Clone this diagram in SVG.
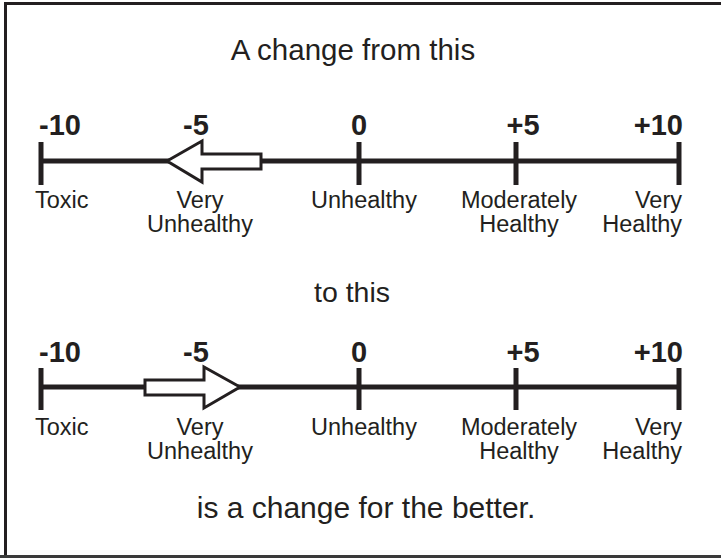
<svg xmlns="http://www.w3.org/2000/svg" width="721" height="558" viewBox="0 0 721 558">
<style>
.t{font-family:"Liberation Sans",Arial,sans-serif;fill:#231f20}
.title{text-anchor:middle}
.num{font-size:29px;font-weight:bold}
.lbl{font-size:23.5px}
.ax{stroke:#231f20;stroke-width:5;fill:none}
.arrow{fill:#fff;stroke:#231f20;stroke-width:3;stroke-linejoin:miter}
</style>
<rect x="0" y="0" width="721" height="558" fill="#fff"/>
<path d="M5.5 559V3.5H722" fill="none" stroke="#231f20" stroke-width="3"/>
<line x1="0" y1="556.5" x2="721" y2="556.5" stroke="#3a3a3a" stroke-width="3"/>
<text class="t title" x="353" y="60" font-size="29.5">A change from this</text>
<text class="t title" x="352" y="302" font-size="28.5">to this</text>
<text class="t title" x="366" y="518" font-size="30">is a change for the better.</text>
<g id="top-scale">
<g class="connectors">
<line class="ax" x1="41" y1="161" x2="679" y2="161"/>
<line class="ax" x1="41" y1="142" x2="41" y2="185"/>
<line class="ax" x1="359" y1="142" x2="359" y2="185"/>
<line class="ax" x1="516" y1="142" x2="516" y2="185"/>
<line class="ax" x1="679" y1="142" x2="679" y2="185"/>
</g>
<g id="top-arrow"><polygon class="arrow" points="167,161 202,141 202,154 261,154 261,169 202,169 202,182"/></g>
<g id="top-n-10"><text class="t num" x="39" y="135">-10</text></g>
<g id="top-n-5"><text class="t num" x="196" y="135" text-anchor="middle">-5</text></g>
<g id="top-n0"><text class="t num" x="359" y="135" text-anchor="middle">0</text></g>
<g id="top-n5"><text class="t num" x="523" y="135" text-anchor="middle">+5</text></g>
<g id="top-n10"><text class="t num" x="683" y="135" text-anchor="end">+10</text></g>
<g id="top-toxic"><text class="t lbl" x="35" y="208">Toxic</text></g>
<g id="top-vu"><text class="t lbl" x="200" y="208" text-anchor="middle">Very</text><text class="t lbl" x="200" y="232" text-anchor="middle">Unhealthy</text></g>
<g id="top-u"><text class="t lbl" x="364" y="208" text-anchor="middle">Unhealthy</text></g>
<g id="top-mh"><text class="t lbl" x="519" y="208" text-anchor="middle">Moderately</text><text class="t lbl" x="519" y="232" text-anchor="middle">Healthy</text></g>
<g id="top-vh"><text class="t lbl" x="682" y="208" text-anchor="end">Very</text><text class="t lbl" x="682" y="232" text-anchor="end">Healthy</text></g>
</g>
<g id="bottom-scale">
<g class="connectors">
<line class="ax" x1="41" y1="387" x2="679" y2="387"/>
<line class="ax" x1="41" y1="368" x2="41" y2="410"/>
<line class="ax" x1="359" y1="368" x2="359" y2="410"/>
<line class="ax" x1="516" y1="368" x2="516" y2="410"/>
<line class="ax" x1="679" y1="368" x2="679" y2="410"/>
</g>
<g id="bottom-arrow"><polygon class="arrow" points="240,387 204,367 204,380 145,380 145,395 204,395 204,408"/></g>
<g id="bot-n-10"><text class="t num" x="39" y="362">-10</text></g>
<g id="bot-n-5"><text class="t num" x="196" y="362" text-anchor="middle">-5</text></g>
<g id="bot-n0"><text class="t num" x="359" y="362" text-anchor="middle">0</text></g>
<g id="bot-n5"><text class="t num" x="523" y="362" text-anchor="middle">+5</text></g>
<g id="bot-n10"><text class="t num" x="683" y="362" text-anchor="end">+10</text></g>
<g id="bot-toxic"><text class="t lbl" x="35" y="435">Toxic</text></g>
<g id="bot-vu"><text class="t lbl" x="200" y="435" text-anchor="middle">Very</text><text class="t lbl" x="200" y="459" text-anchor="middle">Unhealthy</text></g>
<g id="bot-u"><text class="t lbl" x="364" y="435" text-anchor="middle">Unhealthy</text></g>
<g id="bot-mh"><text class="t lbl" x="519" y="435" text-anchor="middle">Moderately</text><text class="t lbl" x="519" y="459" text-anchor="middle">Healthy</text></g>
<g id="bot-vh"><text class="t lbl" x="682" y="435" text-anchor="end">Very</text><text class="t lbl" x="682" y="459" text-anchor="end">Healthy</text></g>
</g>
</svg>
